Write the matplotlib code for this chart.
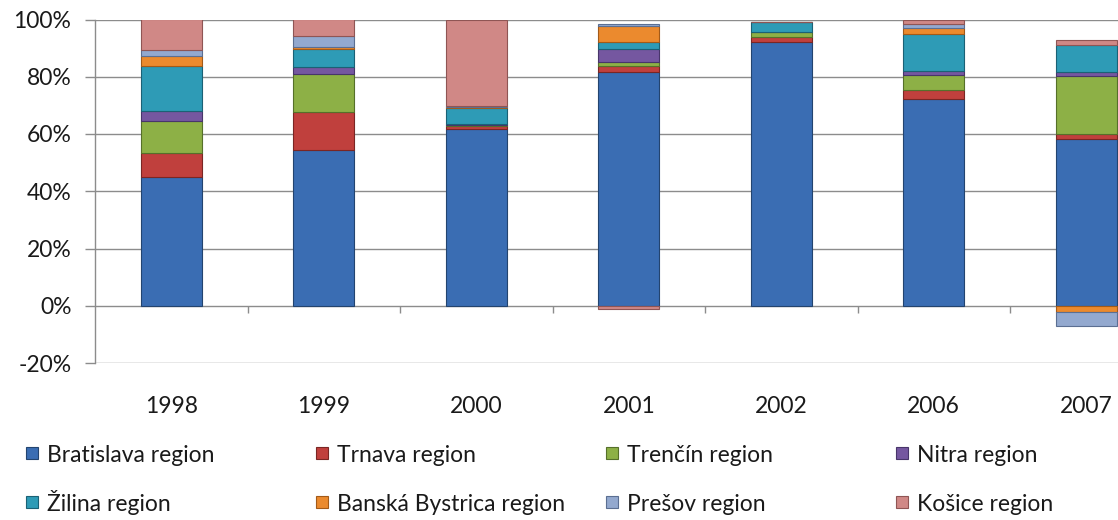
import matplotlib.pyplot as plt
import numpy as np
from matplotlib.patches import Rectangle
from matplotlib.ticker import FuncFormatter

plt.rcParams['font.family'] = ['Lato', 'DejaVu Sans']

# share of each region per year (%)
years = ['1998', '1999', '2000', '2001', '2002', '2006', '2007']
regions = ['Bratislava region', 'Trnava region', 'Trenčín region', 'Nitra region',
           'Žilina region', 'Banská Bystrica region', 'Prešov region', 'Košice region']
bratislava = [45.0, 54.5, 61.8, 81.6, 92.0, 72.3, 58.3]
trnava = [8.4, 13.1, 1.0, 2.3, 2.0, 2.9, 1.7]
trencin = [11.0, 13.2, 0.3, 1.2, 1.5, 5.5, 20.1]
nitra = [3.8, 2.5, 0.4, 4.7, 0.0, 1.3, 1.4]
zilina = [15.4, 6.5, 5.6, 2.3, 3.5, 13.1, 9.6]
banska = [3.8, 0.5, 0.3, 5.5, 0.0, 2.1, -2.3]
presov = [2.0, 4.1, 0.5, 1.0, 0.0, 1.4, -4.7]
kosice = [10.6, 5.6, 30.1, -1.2, 0.0, 1.2, 1.7]

colors = ['#3A6DB3', '#C0403D', '#8DB046', '#7557A0',
          '#2E9BB6', '#EB8A2E', '#93A9CF', '#D08886']
edges = ['#23446f', '#7a2624', '#56702a', '#48356a',
         '#1b6175', '#a35a18', '#5b6f92', '#8f5554']

series = [bratislava, trnava, trencin, nitra, zilina, banska, presov, kosice]

W, H = 1118, 520
fs = 16.5
fig = plt.figure(figsize=(W / 100, H / 100), dpi=100)
ax = fig.add_axes([95 / W, 1 - 363 / H, 7 * 152.5 / W, (363 - 19.5) / H])

x = np.arange(len(years))
pos_bottom = np.zeros(len(years))
neg_bottom = np.zeros(len(years))
for vals, col, ec in zip(series, colors, edges):
    v = np.array(vals)
    bottom = np.where(v >= 0, pos_bottom, neg_bottom)
    ax.bar(x, v, 0.4, bottom=bottom, color=col, edgecolor=ec, linewidth=0.8, zorder=3)
    pos_bottom += np.where(v > 0, v, 0)
    neg_bottom += np.where(v < 0, v, 0)

ax.set_xlim(-0.5, len(years) - 0.5)
ax.set_ylim(-20, 100)
ax.set_yticks(np.arange(-20, 101, 20))
ax.yaxis.set_major_formatter(FuncFormatter(lambda v, p: f'{v:.0f}%'))
ax.grid(axis='y', color='#8c8c8c', linewidth=1.0, zorder=0)
ax.set_xticks(x)
ax.set_xticklabels(years)
ax.tick_params(axis='x', length=0, pad=24, labelsize=fs, colors='#1a1a1a')
ax.tick_params(axis='y', length=7, width=1, color='#8c8c8c', pad=10, labelsize=fs, labelcolor='#1a1a1a')
for s in ['top', 'right', 'bottom']:
    ax.spines[s].set_visible(False)
ax.spines['left'].set_color('#8c8c8c')
ax.spines['left'].set_linewidth(1.0)

# category boundary tick marks on the 0% line
ax.vlines(x[:-1] + 0.5, -2.6, 0, color='#8c8c8c', linewidth=1.0, zorder=2)

# legend: four equal columns, two rows
row_base = [462, 511]
for i, (name, col, ec) in enumerate(zip(regions, colors, edges)):
    c, r = i % 4, i // 4
    x0 = 26 + 290 * c
    yb = row_base[r]
    fig.patches.append(Rectangle((x0 / W, 1 - (yb - 3) / H), 12 / W, 12 / H,
                                 transform=fig.transFigure, facecolor=col,
                                 edgecolor=ec, linewidth=0.8))
    fig.text((x0 + 21) / W, 1 - yb / H, name, fontsize=fs, color='#1a1a1a',
             ha='left', va='baseline')

fig.savefig('out.png', dpi=100)
